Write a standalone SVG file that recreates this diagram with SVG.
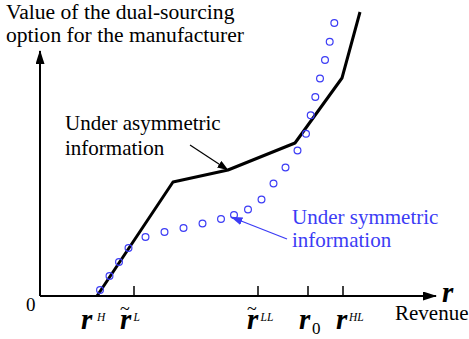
<svg xmlns="http://www.w3.org/2000/svg" width="469" height="339" viewBox="0 0 469 339">
  <style>
    text { font-family: "Liberation Serif", "Times New Roman", serif; }
    .txt { font-size: 21px; fill: #000; }
    .title { font-size: 21.6px; fill: #000; }
    .blue { fill: #3c3cf5; }
    .zero { font-size: 19px; fill: #000; }
    .lbl { font-size: 29px; font-weight: bold; font-style: italic; fill: #000; }
    .sup { font-size: 11.5px; font-weight: normal; font-style: italic; }
    .sub { font-size: 17px; font-weight: normal; font-style: normal; }
    .tld { font-size: 18px; font-weight: normal; font-style: normal; }
    .axis { stroke: #000; stroke-width: 2; fill: none; }
    .tick { stroke: #000; stroke-width: 1.5; }
    .curve { stroke: #000; stroke-width: 3; fill: none; stroke-linejoin: round; }
    .pt { stroke: #3c3cf5; stroke-width: 1.2; fill: none; }
  </style>
  <defs>
    <marker id="axisHead" viewBox="0 0 14 9" refX="13" refY="4.5" markerWidth="14" markerHeight="9" markerUnits="userSpaceOnUse" orient="auto">
      <path d="M0,0 L14,4.5 L0,9 Z" fill="#000"/>
    </marker>
    <marker id="blackHead" viewBox="0 0 11 8" refX="10.5" refY="4" markerWidth="11" markerHeight="8" markerUnits="userSpaceOnUse" orient="auto">
      <path d="M0,0 L11,4 L0,8 Z" fill="#000"/>
    </marker>
    <marker id="blueHead" viewBox="0 0 12 8" refX="11.5" refY="4" markerWidth="12" markerHeight="8" markerUnits="userSpaceOnUse" orient="auto">
      <path d="M0,0 L12,4 L0,8 Z" fill="#3c3cf5"/>
    </marker>
  </defs>

  <!-- axes -->
  <g id="axes">
    <line class="axis" x1="40" y1="296" x2="40" y2="51" marker-end="url(#axisHead)"/>
    <line class="axis" x1="40" y1="296" x2="436" y2="296" marker-end="url(#axisHead)"/>
    <line class="tick" x1="134" y1="286" x2="134" y2="296"/>
    <line class="tick" x1="258" y1="286" x2="258" y2="296"/>
    <line class="tick" x1="308" y1="286" x2="308" y2="296"/>
    <line class="tick" x1="343" y1="286" x2="343" y2="296"/>
  </g>

  <!-- axis titles -->
  <g id="y-title">
    <text class="title" x="6" y="18.5">Value of the dual-sourcing</text>
    <text class="title" x="6" y="41.5">option for the manufacturer</text>
  </g>
  <g id="x-title">
    <text class="lbl" x="442" y="302">r</text>
    <text class="txt" x="395" y="320">Revenue</text>
  </g>
  <text id="origin" class="zero" x="26" y="311">0</text>

  <!-- tick labels -->
  <text id="label-rH" class="lbl" x="81" y="329">r<tspan class="sup" x="97" y="321">H</tspan></text>
  <text id="label-rL" class="lbl" x="120" y="329">r<tspan class="tld" x="120" y="315">~</tspan><tspan class="sup" x="133.5" y="321">L</tspan></text>
  <text id="label-rLL" class="lbl" x="247" y="329">r<tspan class="tld" x="247" y="315">~</tspan><tspan class="sup" x="260.5" y="321">LL</tspan></text>
  <text id="label-r0" class="lbl" x="299" y="329">r<tspan class="sub" x="312" y="334">0</tspan></text>
  <text id="label-rHL" class="lbl" x="336" y="329">r<tspan class="sup" x="349" y="321">HL</tspan></text>

  <!-- asymmetric-information value curve -->
  <g id="asymmetric-curve">
    <polyline class="curve" points="97,296 173,182 228,170 295,143 342,78 360,12"/>
  </g>

  <!-- symmetric-information value points -->
  <g id="symmetric-points">
    <circle class="pt" cx="100" cy="290" r="3.4"/>
    <circle class="pt" cx="109.5" cy="276" r="3.4"/>
    <circle class="pt" cx="119" cy="262" r="3.4"/>
    <circle class="pt" cx="128.5" cy="248" r="3.4"/>
    <circle class="pt" cx="145.5" cy="237" r="3.4"/>
    <circle class="pt" cx="164.5" cy="232" r="3.4"/>
    <circle class="pt" cx="183.5" cy="228" r="3.4"/>
    <circle class="pt" cx="202.5" cy="223.5" r="3.4"/>
    <circle class="pt" cx="221" cy="219" r="3.4"/>
    <circle class="pt" cx="234" cy="215" r="3.4"/>
    <circle class="pt" cx="248" cy="209.5" r="3.4"/>
    <circle class="pt" cx="261.5" cy="199.5" r="3.4"/>
    <circle class="pt" cx="273.5" cy="183.5" r="3.4"/>
    <circle class="pt" cx="285.5" cy="167.5" r="3.4"/>
    <circle class="pt" cx="297.5" cy="150.5" r="3.4"/>
    <circle class="pt" cx="306" cy="133.7" r="3.4"/>
    <circle class="pt" cx="310.7" cy="115.3" r="3.4"/>
    <circle class="pt" cx="315.3" cy="97" r="3.4"/>
    <circle class="pt" cx="320" cy="78.5" r="3.4"/>
    <circle class="pt" cx="325" cy="60" r="3.4"/>
    <circle class="pt" cx="329.7" cy="41.7" r="3.4"/>
    <circle class="pt" cx="334.3" cy="23" r="3.4"/>
  </g>

  <!-- annotation pointers -->
  <g id="connectors">
    <line x1="190" y1="145" x2="228" y2="170" stroke="#000" stroke-width="1.2" marker-end="url(#blackHead)"/>
    <line x1="287" y1="239" x2="231" y2="217" stroke="#3c3cf5" stroke-width="1.3" marker-end="url(#blueHead)"/>
  </g>

  <!-- annotations -->
  <g id="note-asymmetric">
    <text class="txt" x="65" y="130">Under asymmetric</text>
    <text class="txt" x="65" y="155">information</text>
  </g>
  <g id="note-symmetric">
    <text class="txt blue" x="292" y="224">Under symmetric</text>
    <text class="txt blue" x="292" y="247">information</text>
  </g>
</svg>
